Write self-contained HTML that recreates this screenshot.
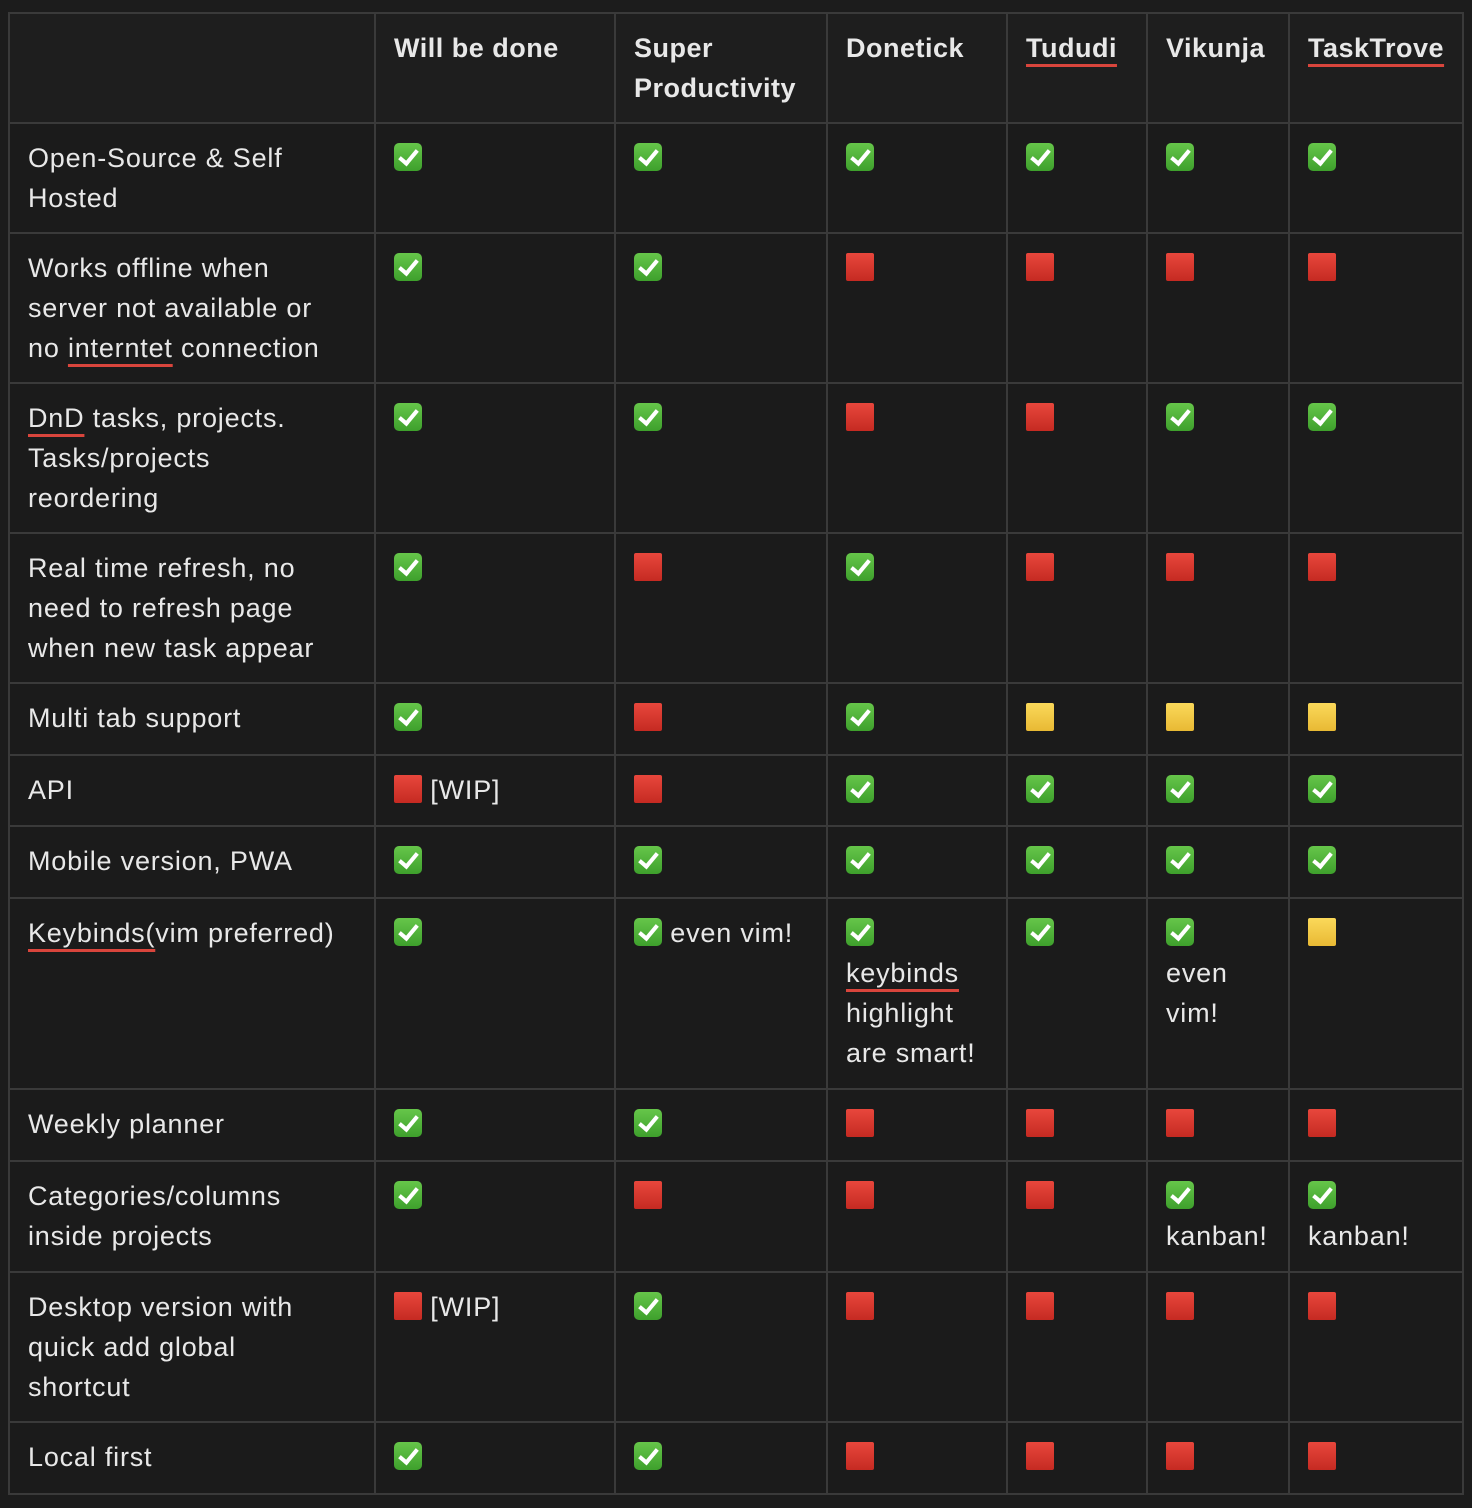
<!DOCTYPE html>
<html><head><meta charset="utf-8"><style>
html,body{margin:0;padding:0;background:#1c1c1c;width:1472px;height:1508px;overflow:hidden}
table{position:absolute;left:8px;top:12px;border-collapse:collapse;table-layout:fixed;font-family:"Liberation Sans",sans-serif;font-size:27px;line-height:40px;color:#e8e8e8;letter-spacing:0.8px}
td,th{border:2px solid #3a3a3a;background:#1b1b1b;vertical-align:top;text-align:left;padding:14px 0 0 18px;box-sizing:border-box;overflow:hidden;white-space:nowrap}
th{font-weight:bold;background:#1e1e1e;letter-spacing:0.5px}
.i{display:inline-block;width:28px;height:28px;vertical-align:-4px;border-radius:5px;position:relative}
.g{background:linear-gradient(#66c64a,#3ea02c)}
.g::after{content:"";position:absolute;left:9px;top:3px;width:7px;height:15px;border:solid #fff;border-width:0 4px 4px 0;transform:rotate(40deg)}
.r{background:linear-gradient(#e8473c,#c52a22);border-radius:2px}
.y{background:linear-gradient(#fbd95a,#e8b934);border-radius:2px}
.u{text-decoration:underline solid #d9453c;text-decoration-thickness:3px;text-underline-offset:7px}
</style></head><body>
<table>
<colgroup><col style="width:366px"><col style="width:240px"><col style="width:212px"><col style="width:180px"><col style="width:140px"><col style="width:142px"><col style="width:174px"></colgroup>
<tr style="height:110px"><th></th><th>Will be done</th><th>Super<br>Productivity</th><th>Donetick</th><th><span class="u">Tududi</span></th><th>Vikunja</th><th><span class="u">TaskTrove</span></th></tr>
<tr style="height:110px"><td>Open-Source &amp; Self<br>Hosted</td><td><i class="i g"></i></td><td><i class="i g"></i></td><td><i class="i g"></i></td><td><i class="i g"></i></td><td><i class="i g"></i></td><td><i class="i g"></i></td></tr>
<tr style="height:150px"><td>Works offline when<br>server not available or<br>no <span class="u">interntet</span> connection</td><td><i class="i g"></i></td><td><i class="i g"></i></td><td><i class="i r"></i></td><td><i class="i r"></i></td><td><i class="i r"></i></td><td><i class="i r"></i></td></tr>
<tr style="height:150px"><td><span class="u">DnD</span> tasks, projects.<br>Tasks/projects<br>reordering</td><td><i class="i g"></i></td><td><i class="i g"></i></td><td><i class="i r"></i></td><td><i class="i r"></i></td><td><i class="i g"></i></td><td><i class="i g"></i></td></tr>
<tr style="height:150px"><td>Real time refresh, no<br>need to refresh page<br>when new task appear</td><td><i class="i g"></i></td><td><i class="i r"></i></td><td><i class="i g"></i></td><td><i class="i r"></i></td><td><i class="i r"></i></td><td><i class="i r"></i></td></tr>
<tr style="height:72px"><td>Multi tab support</td><td><i class="i g"></i></td><td><i class="i r"></i></td><td><i class="i g"></i></td><td><i class="i y"></i></td><td><i class="i y"></i></td><td><i class="i y"></i></td></tr>
<tr style="height:71px"><td>API</td><td><i class="i r"></i> [WIP]</td><td><i class="i r"></i></td><td><i class="i g"></i></td><td><i class="i g"></i></td><td><i class="i g"></i></td><td><i class="i g"></i></td></tr>
<tr style="height:72px"><td>Mobile version, PWA</td><td><i class="i g"></i></td><td><i class="i g"></i></td><td><i class="i g"></i></td><td><i class="i g"></i></td><td><i class="i g"></i></td><td><i class="i g"></i></td></tr>
<tr style="height:191px"><td><span class="u">Keybinds(</span>vim preferred)</td><td><i class="i g"></i></td><td><i class="i g"></i> even vim!</td><td><i class="i g"></i><br><span class="u">keybinds</span><br>highlight<br>are smart!</td><td><i class="i g"></i></td><td><i class="i g"></i><br>even<br>vim!</td><td><i class="i y"></i></td></tr>
<tr style="height:72px"><td>Weekly planner</td><td><i class="i g"></i></td><td><i class="i g"></i></td><td><i class="i r"></i></td><td><i class="i r"></i></td><td><i class="i r"></i></td><td><i class="i r"></i></td></tr>
<tr style="height:111px"><td>Categories/columns<br>inside projects</td><td><i class="i g"></i></td><td><i class="i r"></i></td><td><i class="i r"></i></td><td><i class="i r"></i></td><td><i class="i g"></i><br>kanban!</td><td><i class="i g"></i><br>kanban!</td></tr>
<tr style="height:150px"><td>Desktop version with<br>quick add global<br>shortcut</td><td><i class="i r"></i> [WIP]</td><td><i class="i g"></i></td><td><i class="i r"></i></td><td><i class="i r"></i></td><td><i class="i r"></i></td><td><i class="i r"></i></td></tr>
<tr style="height:72px"><td>Local first</td><td><i class="i g"></i></td><td><i class="i g"></i></td><td><i class="i r"></i></td><td><i class="i r"></i></td><td><i class="i r"></i></td><td><i class="i r"></i></td></tr>
</table>
</body></html>
